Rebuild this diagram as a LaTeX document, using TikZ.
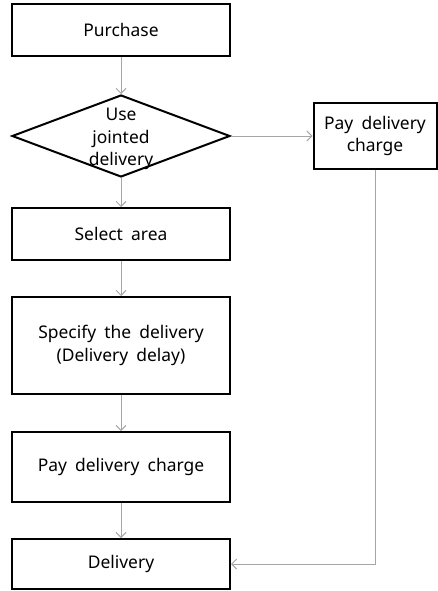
\documentclass[tikz,border=0pt]{standalone}
\usepackage{fontspec}
\setmainfont{Noto Sans}[WordSpace=1.8]
\usetikzlibrary{arrows.meta,shapes.geometric}
\begin{document}
\begin{tikzpicture}[x=1bp,y=-1bp,
  txt/.style={font=\fontsize{17.5}{22.5}\selectfont, align=center, text=black},
  box/.style={txt, draw=black, line width=2bp, rectangle, inner sep=0pt},
  dia/.style={draw=black, line width=2bp, diamond, inner sep=0pt,
              minimum width=218bp, minimum height=82bp},
  flow/.style={draw=black!35, line width=0.9bp,
               -{Straight Barb[length=5bp,width=10bp,line width=0.9bp]}}]
\useasboundingbox (0,0) rectangle (438,591);

% main column
\node[box, minimum width=218bp, minimum height=52bp] (buy) at (121,30) {Purchase};
\node[dia] (use) at (121,136) {};
\node[txt] (usetext) at (121,139) {Use\\jointed\\delivery};
\node[box, minimum width=218bp, minimum height=52bp] (area) at (121,234) {Select area};
\node[box, minimum width=218bp, minimum height=97bp] (spec) at (121,345.5) {Specify the delivery\\(Delivery delay)};
\node[box, minimum width=218bp, minimum height=70bp] (pay) at (121,467) {Pay delivery charge};
\node[box, minimum width=218bp, minimum height=50bp] (deliv) at (121,564) {Delivery};

% side branch
\node[box, minimum width=123bp, minimum height=66bp] (payside) at (375,136) {Pay delivery\\charge};

% connectors
\draw[flow] (buy) -- (use);
\draw[flow] (use) -- (area);
\draw[flow] (area) -- (spec);
\draw[flow] (spec) -- (pay);
\draw[flow] (pay) -- (deliv);
\draw[flow] (use.east) -- (payside.west);
\draw[flow] (payside.south) |- (deliv.east);
\end{tikzpicture}
\end{document}
